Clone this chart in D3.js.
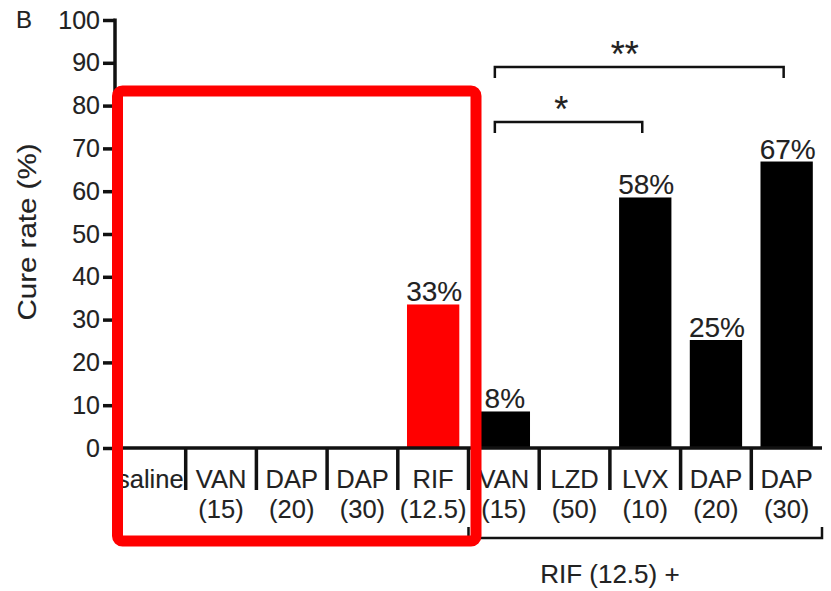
<!DOCTYPE html>
<html>
<head>
<meta charset="utf-8">
<script src="https://cdn.jsdelivr.net/npm/d3@7"></script>
<style>
  html, body { margin: 0; padding: 0; background: #fff; }
  svg { display: block; font-family: "Liberation Sans", Arial, Helvetica, sans-serif; }
  svg text { stroke: #222; stroke-width: 0.12px; }
</style>
</head>
<body>
<svg id="chart" width="831" height="591"></svg>
<script>
// ---- data ----
const drugNames  = ["saline", "VAN", "DAP", "DAP", "RIF", "VAN", "LZD", "LVX", "DAP", "DAP"];
const drugDoses  = ["", "(15)", "(20)", "(30)", "(12.5)", "(15)", "(50)", "(10)", "(20)", "(30)"];
const cureRates  = [0, 0, 0, 0, 33.3, 8.3, 0, 58.3, 25, 66.7];
const rateLabels = ["", "", "", "", "33%", "8%", "", "58%", "25%", "67%"];
const barColors  = ["#000", "#000", "#000", "#000", "#ff0000", "#000", "#000", "#000", "#000", "#000"];
const yTicks     = [0, 10, 20, 30, 40, 50, 60, 70, 80, 90, 100];
// significance brackets: [fromIndex, toIndex, label]
const sigFrom    = [5, 5];
const sigTo      = [9, 7];
const sigLabels  = ["**", "*"];
const groupLabel = "RIF (12.5) +";
const groupFrom  = 5, groupTo = 10;

(function () {
// ---- layout ----
const svg = d3.select("#chart");
const pLeft = 115, pRight = 822, pTop = 20, base = 448;
const ink = "#111";

const idx = d3.range(drugNames.length);
const x = d3.scaleBand().domain(idx).range([pLeft, pRight]).paddingInner(0.26).paddingOuter(0.13);
const step = x.step();
const y = d3.scaleLinear().domain([0, 100]).range([base, pTop]);

// bars
svg.append("g").selectAll("rect").data(idx).join("rect")
  .attr("x", i => x(i))
  .attr("width", x.bandwidth())
  .attr("y", i => y(cureRates[i]) - 1)
  .attr("height", i => cureRates[i] > 0 ? base - y(cureRates[i]) + 1 : 0)
  .attr("fill", i => barColors[i]);

// value labels
svg.append("g").selectAll("text").data(idx.filter(i => rateLabels[i])).join("text")
  .attr("x", i => x(i) + x.bandwidth() / 2 + 1)
  .attr("y", i => y(cureRates[i]) - 4)
  .attr("text-anchor", "middle")
  .attr("font-size", 28)
  .attr("fill", "#222")
  .text(i => rateLabels[i]);

// y axis
const yAxis = d3.axisLeft(y).tickValues(yTicks).tickSize(12).tickPadding(3);
const gy = svg.append("g").attr("transform", `translate(${pLeft},0)`).call(yAxis);
gy.select(".domain").attr("d", `M0,${pTop - 1.5}V${base}`).attr("stroke", ink).attr("stroke-width", 3.5);
gy.selectAll(".tick line").attr("stroke", ink).attr("stroke-width", 3.5);
gy.selectAll(".tick text").attr("font-size", 25).attr("fill", "#222")
  .attr("font-family", "'Liberation Sans', Arial, sans-serif");

// x axis baseline
svg.append("line").attr("x1", pLeft).attr("x2", pRight).attr("y1", base).attr("y2", base)
  .attr("stroke", ink).attr("stroke-width", 3.5);

// dividers between categories
svg.append("g").selectAll("line").data(d3.range(1, drugNames.length)).join("line")
  .attr("x1", i => pLeft + i * step).attr("x2", i => pLeft + i * step)
  .attr("y1", base).attr("y2", base + 42)
  .attr("stroke", ink).attr("stroke-width", 3.5);

// category labels
const cl = svg.append("g").attr("font-size", 25.5).attr("fill", "#222").attr("text-anchor", "middle");
cl.selectAll("text.n").data(idx).join("text").attr("class", "n")
  .attr("x", i => x(i) + x.bandwidth() / 2).attr("y", 488).text(i => drugNames[i]);
cl.selectAll("text.d").data(idx).join("text").attr("class", "d")
  .attr("x", i => x(i) + x.bandwidth() / 2).attr("y", 518).text(i => drugDoses[i]);

// group bracket below
const gx0 = pLeft + groupFrom * step, gx1 = pLeft + groupTo * step;
svg.append("path")
  .attr("d", `M${gx0},527V538H${gx1}V527`)
  .attr("fill", "none").attr("stroke", ink).attr("stroke-width", 2.5);
svg.append("text").attr("x", gx0 + 0.4 * (gx1 - gx0)).attr("y", 583)
  .attr("text-anchor", "middle").attr("font-size", 26).attr("fill", "#222").text(groupLabel);

// significance brackets
const sigY = [67, 122];
const sigTextY = [67, 122];
sigLabels.forEach((lab, k) => {
  const a = x(sigFrom[k]) + x.bandwidth() / 2 - 9;
  const b = x(sigTo[k]) + x.bandwidth() / 2 - 3;
  svg.append("path").attr("d", `M${a},${sigY[k] + 11}V${sigY[k]}H${b}V${sigY[k] + 11}`)
    .attr("fill", "none").attr("stroke", ink).attr("stroke-width", 2.5);
  svg.append("text").attr("x", a + 0.45 * (b - a)).attr("y", sigTextY[k])
    .attr("text-anchor", "middle").attr("font-size", 36).attr("fill", "#222").text(lab);
});

// y title
svg.append("text")
  .attr("transform", "translate(36,232) rotate(-90)")
  .attr("text-anchor", "middle").attr("font-size", 25).attr("fill", "#222")
  .attr("textLength", 177).attr("lengthAdjust", "spacingAndGlyphs")
  .text("Cure rate (%)");

// panel letter
svg.append("text").attr("x", 16).attr("y", 28).attr("font-size", 24).attr("fill", "#222").text("B");

// red highlight box
svg.append("rect")
  .attr("x", 117.5).attr("y", 91).attr("width", 358.5).attr("height", 450)
  .attr("rx", 5).attr("fill", "none").attr("stroke", "#ff0000").attr("stroke-width", 11);
})();
</script>
</body>
</html>
